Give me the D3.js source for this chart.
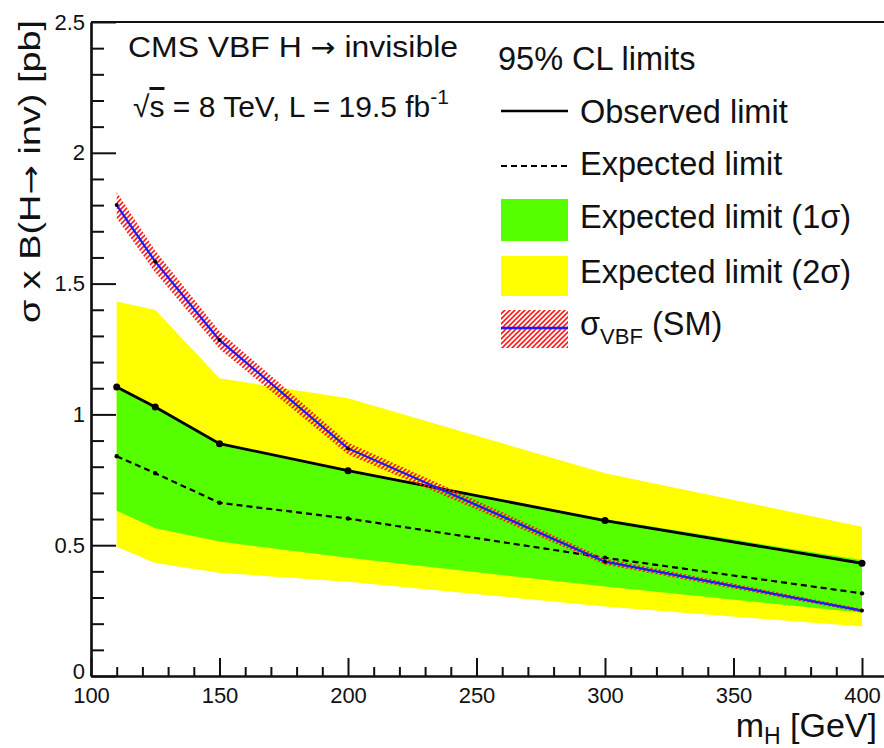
<!DOCTYPE html>
<html>
<head>
<meta charset="utf-8">
<script src="https://cdn.jsdelivr.net/npm/d3@7/dist/d3.min.js"></script>
<style>
  html, body { margin: 0; padding: 0; background: #fff; }
  svg { display: block; }
  text { font-family: "Liberation Sans", Arial, Helvetica, sans-serif; fill: #111; }
</style>
</head>
<body>
<svg id="chart" width="884" height="748"></svg>
<script>
// ---- data ----
const massPoints   = [110, 125, 150, 200, 300, 400];
const observed     = [1.105, 1.028, 0.888, 0.785, 0.594, 0.431];
const expected     = [0.840, 0.775, 0.662, 0.602, 0.452, 0.316];
const oneSigmaUp   = [1.100, 1.025, 0.885, 0.782, 0.600, 0.443];
const oneSigmaDown = [0.632, 0.565, 0.514, 0.452, 0.342, 0.242];
const twoSigmaUp   = [1.432, 1.399, 1.138, 1.062, 0.775, 0.571];
const twoSigmaDown = [0.494, 0.432, 0.395, 0.360, 0.266, 0.189];
const smXsec       = [1.800, 1.584, 1.284, 0.870, 0.437, 0.250];
const smXsecUp     = [1.850, 1.626, 1.318, 0.893, 0.449, 0.257];
const smXsecDown   = [1.750, 1.542, 1.250, 0.847, 0.425, 0.243];

const xMajorTicks = [100, 150, 200, 250, 300, 350, 400];
const yMajorTicks = [0, 0.5, 1, 1.5, 2, 2.5];
const yTickLabels = ["0", "0.5", "1", "1.5", "2", "2.5"];

const legendEntries = ["Observed limit", "Expected limit", "Expected limit (1σ)", "Expected limit (2σ)"];

// ---- layout ----
const svg = d3.select("#chart");
const x = d3.scaleLinear().domain([100, 410]).range([91, 91 + 310 * 2.57]);
const y = d3.scaleLinear().domain([0, 2.5]).range([676, 22]);

const pts = massPoints.map((m, i) => ({
  m, obs: observed[i], exp: expected[i],
  s1u: oneSigmaUp[i], s1d: oneSigmaDown[i],
  s2u: twoSigmaUp[i], s2d: twoSigmaDown[i],
  sm: smXsec[i], smu: smXsecUp[i], smd: smXsecDown[i]
}));

// hatch pattern
const defs = svg.append("defs");
const pat = defs.append("pattern").attr("id", "hatch").attr("patternUnits", "userSpaceOnUse")
  .attr("width", 5).attr("height", 5);
pat.append("path").attr("d", "M-1,1 L1,-1 M0,5 L5,0 M4,6 L6,4")
  .attr("stroke", "#ff1a1a").attr("stroke-width", 1.6);
defs.append("clipPath").attr("id", "plotclip").append("rect")
  .attr("x", 91).attr("y", 22).attr("width", 800).attr("height", 654);

const plot = svg.append("g").attr("clip-path", "url(#plotclip)");

const area = (lo, hi) => d3.area().x(d => x(d.m)).y0(d => y(d[lo])).y1(d => y(d[hi]));
const line = key => d3.line().x(d => x(d.m)).y(d => y(d[key]));

plot.append("path").datum(pts).attr("d", area("s2d", "s2u")).attr("fill", "#ffff00");
plot.append("path").datum(pts).attr("d", area("s1d", "s1u")).attr("fill", "#55ff00");

plot.append("path").datum(pts).attr("d", line("exp")).attr("fill", "none")
  .attr("stroke", "#000").attr("stroke-width", 2.2).attr("stroke-dasharray", "6,4");
plot.selectAll(".expdot").data(pts).join("circle")
  .attr("cx", d => x(d.m)).attr("cy", d => y(d.exp)).attr("r", 2.2).attr("fill", "#000");

plot.append("path").datum(pts).attr("d", line("obs")).attr("fill", "none")
  .attr("stroke", "#000").attr("stroke-width", 2.8);
plot.selectAll(".obsdot").data(pts).join("circle")
  .attr("cx", d => x(d.m)).attr("cy", d => y(d.obs)).attr("r", 3.5).attr("fill", "#000");

plot.append("path").datum(pts).attr("d", area("smd", "smu")).attr("fill", "url(#hatch)");
plot.append("path").datum(pts).attr("d", line("sm")).attr("fill", "none")
  .attr("stroke", "#1a1aff").attr("stroke-width", 2.2);
plot.selectAll(".smdot").data(pts).join("circle")
  .attr("cx", d => x(d.m)).attr("cy", d => y(d.sm)).attr("r", 2).attr("fill", "#000");

// ---- axes ----
const minorX = d3.range(100, 411, 10).filter(v => v % 50 !== 0);
const minorY = d3.range(0, 2.51, 0.1).map(v => +v.toFixed(2)).filter(v => Math.round(v * 10) % 5 !== 0);

const xAxis = svg.append("g").attr("transform", "translate(0,676)")
  .call(d3.axisBottom(x).tickValues(xMajorTicks).tickSize(-18).tickSizeOuter(0).tickPadding(11).tickFormat(d3.format("d")));
svg.append("g").attr("transform", "translate(0,676)")
  .call(d3.axisBottom(x).tickValues(minorX).tickSize(-9).tickSizeOuter(0).tickFormat(""));
const yAxis = svg.append("g").attr("transform", "translate(91,0)")
  .call(d3.axisLeft(y).tickValues(yMajorTicks).tickSize(-25).tickSizeOuter(0).tickPadding(6)
    .tickFormat((d, i) => yTickLabels[i]));
svg.append("g").attr("transform", "translate(91,0)")
  .call(d3.axisLeft(y).tickValues(minorY).tickSize(-13).tickSizeOuter(0).tickFormat(""));

svg.selectAll(".domain").attr("stroke", "#111").attr("stroke-width", 2.2);
svg.selectAll(".tick line").attr("stroke", "#111").attr("stroke-width", 2);
svg.selectAll(".tick text").attr("font-size", 22).attr("fill", "#111")
  .attr("font-family", "'Liberation Sans', Arial, sans-serif");
yAxis.selectAll(".tick text").filter(d => d === 0).attr("dy", "0.1em");
// top frame line
svg.append("line").attr("x1", x(100)).attr("x2", 884).attr("y1", y(2.5)).attr("y2", y(2.5))
  .attr("stroke", "#111").attr("stroke-width", 2.2);

// ---- axis titles ----
const yt = svg.append("text").attr("transform", "translate(40,20) rotate(-90)")
  .attr("text-anchor", "end").attr("font-size", 30)
  .attr("textLength", 303).attr("lengthAdjust", "spacingAndGlyphs");
yt.append("tspan").text("σ x B(H");
yt.append("tspan").attr("font-family", "'DejaVu Sans', sans-serif").attr("font-size", 28).text("→");
yt.append("tspan").text(" inv) [pb]");

const xt = svg.append("text").attr("x", 877).attr("y", 737).attr("text-anchor", "end").attr("font-size", 34);
xt.append("tspan").text("m");
xt.append("tspan").attr("font-size", 23).attr("dy", 7).text("H");
xt.append("tspan").attr("dy", -7).text(" [GeV]");

// ---- CMS text ----
const t1 = svg.append("text").attr("x", 128).attr("y", 57).attr("font-size", 30)
  .attr("textLength", 330).attr("lengthAdjust", "spacingAndGlyphs");
t1.append("tspan").text("CMS VBF H ");
t1.append("tspan").attr("font-family", "'DejaVu Sans', sans-serif").attr("font-size", 28).text("→");
t1.append("tspan").text(" invisible");
const t2 = svg.append("text").attr("x", 133).attr("y", 117).attr("font-size", 30);
t2.append("tspan").text("√");
t2.append("tspan").style("text-decoration", "overline").text("s");
t2.append("tspan").text(" = 8 TeV, L = 19.5 fb");
t2.append("tspan").attr("font-size", 21).attr("dy", -13).text("-1");

// ---- legend ----
const lg = svg.append("g");
lg.append("text").attr("x", 498).attr("y", 70).attr("font-size", 32.5).text("95% CL limits");
const rowY = [123, 175, 228, 283, 335];
legendEntries.forEach((t, i) => {
  lg.append("text").attr("x", 580).attr("y", rowY[i]).attr("font-size", 32.5).text(t);
});
const st = lg.append("text").attr("x", 580).attr("y", rowY[4]).attr("font-size", 32.5);
st.append("tspan").text("σ");
st.append("tspan").attr("font-size", 22).attr("dy", 9).text("VBF");
st.append("tspan").attr("dy", -9).text(" (SM)");

const sx0 = 501, sx1 = 568;
lg.append("line").attr("x1", sx0).attr("x2", sx1).attr("y1", 111).attr("y2", 111)
  .attr("stroke", "#000").attr("stroke-width", 2.5);
lg.append("line").attr("x1", sx0).attr("x2", sx1).attr("y1", 166).attr("y2", 166)
  .attr("stroke", "#000").attr("stroke-width", 2).attr("stroke-dasharray", "6,4");
lg.append("rect").attr("x", sx0).attr("y", 199).attr("width", sx1 - sx0).attr("height", 42).attr("fill", "#55ff00");
lg.append("rect").attr("x", sx0).attr("y", 256).attr("width", sx1 - sx0).attr("height", 40).attr("fill", "#ffff00");
lg.append("rect").attr("x", sx0).attr("y", 310).attr("width", sx1 - sx0).attr("height", 38).attr("fill", "url(#hatch)");
lg.append("line").attr("x1", sx0).attr("x2", sx1).attr("y1", 328).attr("y2", 328)
  .attr("stroke", "#1a1aff").attr("stroke-width", 2.5);
</script>
</body>
</html>
